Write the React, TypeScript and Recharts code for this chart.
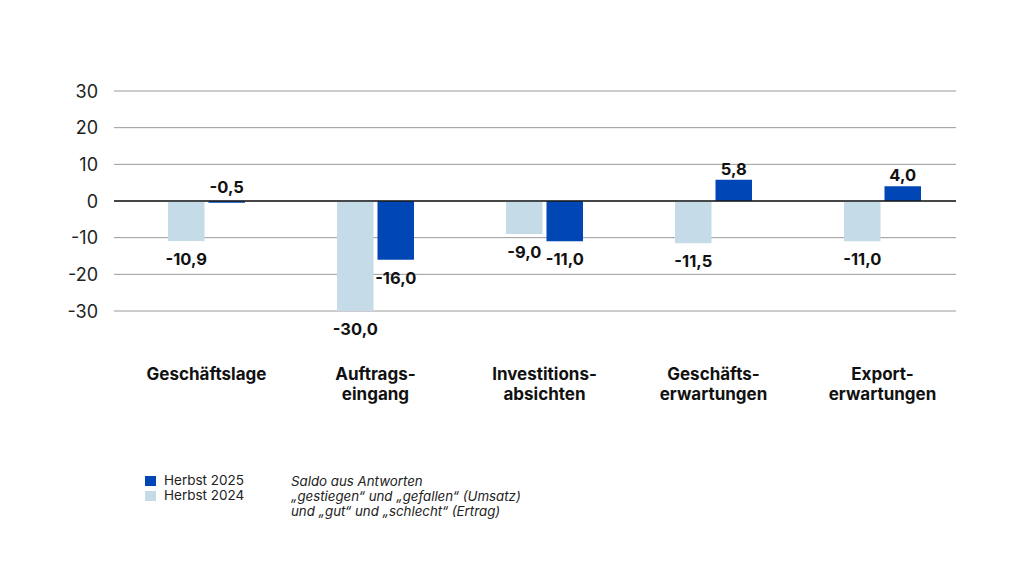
import { BarChart, Bar, XAxis, YAxis, CartesianGrid, ReferenceLine, LabelList } from 'recharts';

const categories = ['Geschäftslage', 'Auftrags-\neingang', 'Investitions-\nabsichten', 'Geschäfts-\nerwartungen', 'Export-\nerwartungen']
const herbst2024 = [-10.9, -30.0, -9.0, -11.5, -11.0]
const herbst2025 = [-0.5, -16.0, -11.0, 5.8, 4.0]
const yTicks = [-30, -20, -10, 0, 10, 20, 30]
const seriesNames = ['Herbst 2025', 'Herbst 2024']
const noteLines = ['Saldo aus Antworten', '„gestiegen“ und „gefallen“ (Umsatz)', 'und „gut“ und „schlecht“ (Ertrag)']

const DARK = '#0046b4'
const LIGHT = '#c5dce8'
const FONT = 'Inter, "Open Sans", sans-serif'

const data = categories.map((c, i) => ({ name: c, v2024: herbst2024[i], v2025: herbst2025[i] }))

const fmt = (v: number) => v.toFixed(1).replace('.', ',')

const ValueLabel = (props: any) => {
  const { x, y, width, height, value } = props
  const top = Math.min(y, y + height)
  const bottom = Math.max(y, y + height)
  let ty
  if (value >= 0) ty = top - 11
  else if (value > -3) ty = top - 14
  else ty = bottom + 18
  return (
    <text x={x + width / 2} y={ty} textAnchor='middle' dominantBaseline='central'
      style={{ fontFamily: FONT, fontWeight: 700, fontSize: 16.5, fill: '#111' }}>
      {fmt(value)}
    </text>
  )
}

const CatTick = (props: any) => {
  const { x, y, payload } = props
  const lines = String(payload.value).split('\n')
  return (
    <text x={x} y={y + 61} textAnchor='middle'
      style={{ fontFamily: FONT, fontWeight: 700, fontSize: 17, fill: '#111' }}>
      {lines.map((l, i) => <tspan key={i} x={x} dy={i === 0 ? 0 : 19.5}>{l}</tspan>)}
    </text>
  )
}

const NumTick = (props: any) => {
  const { y, payload } = props
  return (
    <text x={98} y={y} textAnchor='end' dominantBaseline='central'
      style={{ fontFamily: FONT, fontSize: 18, fill: '#222' }}>
      {payload.value}
    </text>
  )
}

export default function App() {
  return (
    <div style={{ position: 'absolute', left: 0, top: 0, width: 1024, height: 585, background: 'white', fontFamily: FONT }}>
      <BarChart width={1024} height={585} data={data}
        margin={{ top: 91, right: 68, bottom: 214, left: 74 }}
        barSize={36.5} barGap={4}>
        <CartesianGrid vertical={false} stroke='#9a9a9a' strokeWidth={1} />
        <XAxis dataKey='name' axisLine={false} tickLine={false} height={60}
          padding={{ left: 8, right: -11 }} tick={<CatTick />} interval={0} />
        <YAxis width={40} domain={[-30, 30]} ticks={yTicks} axisLine={false} tickLine={false}
          tick={<NumTick />} />
        <Bar dataKey='v2024' fill={LIGHT} isAnimationActive={false}>
          <LabelList dataKey='v2024' content={<ValueLabel />} />
        </Bar>
        <Bar dataKey='v2025' fill={DARK} isAnimationActive={false}>
          <LabelList dataKey='v2025' content={<ValueLabel />} />
        </Bar>
        <ReferenceLine y={0} stroke='#1a1a1a' strokeWidth={1.3} />
      </BarChart>
      <div style={{ position: 'absolute', left: 145, top: 473, fontSize: 13.5, color: '#222', lineHeight: '15px' }}>
        {seriesNames.map((n, i) => (
          <div key={n} style={{ display: 'flex', alignItems: 'center', height: 15 }}>
            <span style={{ display: 'inline-block', width: 11, height: 10, background: i === 0 ? DARK : LIGHT, marginRight: 8 }} />
            {n}
          </div>
        ))}
      </div>
      <div style={{ position: 'absolute', left: 291, top: 474, fontSize: 13.3, fontStyle: 'italic', color: '#222', lineHeight: '15px' }}>
        {noteLines.map(l => <div key={l}>{l}</div>)}
      </div>
    </div>
  )
}
